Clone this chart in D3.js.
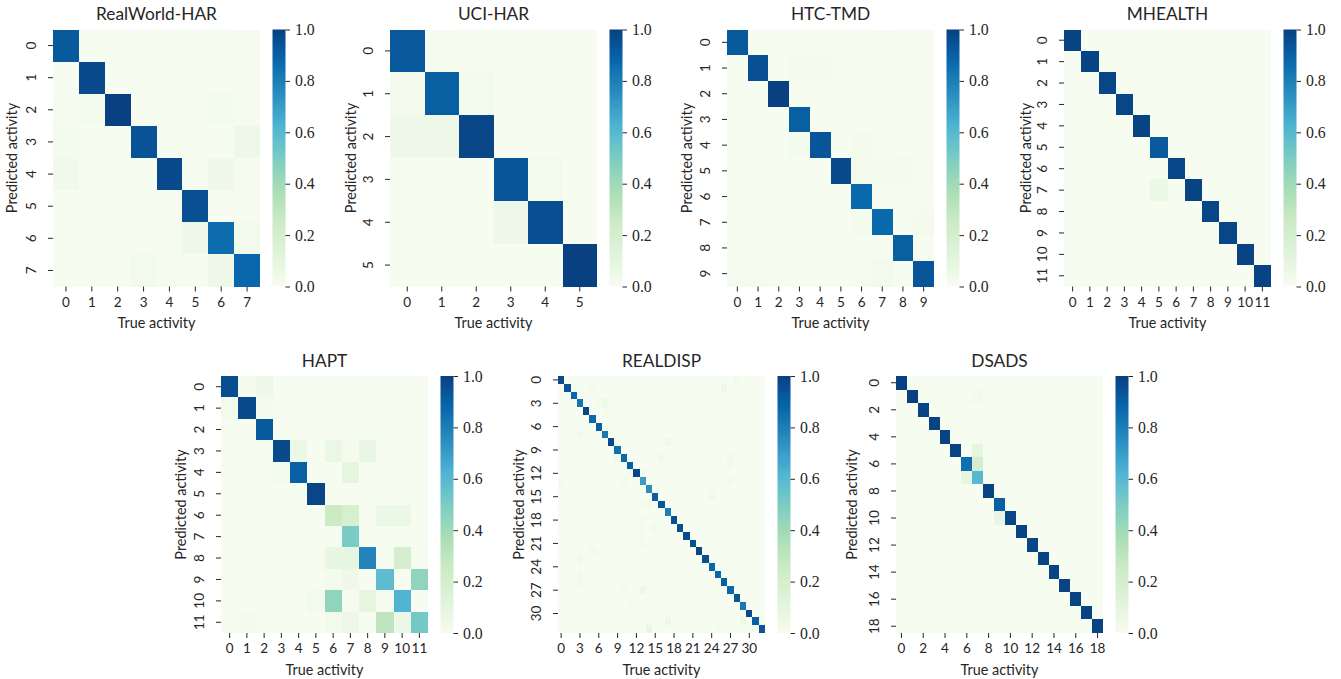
<!DOCTYPE html>
<html><head><meta charset="utf-8">
<script src="https://cdn.jsdelivr.net/npm/d3@7/dist/d3.min.js"></script>
<style>
html,body{margin:0;padding:0;background:#fff}
svg{display:block}
.lab{font-family:Lato,"Noto Sans",sans-serif;fill:#262626}
.cb{font-family:"Liberation Serif",serif;fill:#262626}
</style></head><body>
<svg id="c" width="1341" height="679"></svg>
<script>
// GnBu control colours
const gnbu = ["#f7fcf0","#e0f3db","#ccebc5","#a8ddb5","#7bccc4","#4eb3d3","#2b8cbe","#0868ac","#084081"];
const background = 0.004;

// Diagonal values and off-diagonal [row, col, value]
const rwDiag = [.92,.97,1,.94,.97,.95,.86,.88];
const rwOff = [[0,7,.01],[1,4,.012],[1,5,.008],[1,7,.008],[2,0,.008],[2,1,.02],[2,6,.02],[2,7,.008],
  [3,0,.02],[3,1,.006],[3,4,.006],[3,7,.05],[4,0,.035],[4,5,.005],[4,6,.04],[4,7,.01],[5,6,.005],[5,7,.008],
  [6,4,.01],[6,5,.05],[6,7,.025],[7,0,.005],[7,3,.025],[7,4,.01],[7,5,.005],[7,6,.04]];

const uciDiag = [.92,.9,.98,.93,.96,1];
const uciOff = [[0,1,.01],[1,0,.015],[1,2,.025],[2,0,.05],[2,1,.05],[3,4,.03],[4,3,.05]];

const htcDiag = [.92,.95,1,.9,.93,.97,.87,.87,.9,.93];
const htcOff = [[0,5,.005],[0,6,.006],[0,7,.012],[1,3,.015],[1,4,.015],[1,5,.005],[1,6,.008],[3,1,.006],[3,4,.006],[3,5,.005],
  [4,1,.005],[4,3,.02],[4,6,.015],[4,7,.012],[5,0,.012],[5,4,.006],[5,6,.025],[5,7,.015],[5,8,.015],[5,9,.012],
  [6,7,.012],[6,8,.012],[6,9,.006],[7,0,.012],[7,1,.005],[7,6,.02],[7,9,.015],[8,6,.006],[8,7,.012],[8,9,.006],
  [9,0,.008],[9,1,.008],[9,5,.005],[9,6,.008],[9,7,.025]];

const mhDiag = [.99,.99,.98,.98,.99,.92,.98,.99,.98,.98,.99,.99];
const mhOff = [[7,5,.06]];

const haptDiag = [.96,.97,.92,.97,.9,.98,.25,.5,.78,.58,.62,.52];
const haptOff = [[0,1,.015],[0,2,.05],[1,0,.03],[1,2,.015],[3,4,.06],[3,6,.07],[3,7,.015],[3,8,.08],[4,3,.02],[4,7,.1],
  [6,3,.006],[6,4,.01],[6,7,.18],[6,9,.06],[6,10,.06],[8,5,.012],[8,6,.09],[8,7,.09],[8,9,.01],[8,10,.2],[8,11,.01],
  [9,6,.02],[9,7,.04],[9,8,.005],[9,11,.44],[10,5,.03],[10,6,.44],[10,7,.012],[10,8,.09],[10,9,.01],[10,11,.006],
  [11,0,.008],[11,1,.015],[11,6,.03],[11,7,.05],[11,9,.3],[11,10,.06]];

const rdDiag = [.97,.93,.88,.83,.98,.87,.9,.82,.97,.85,.87,.9,.98,.7,.75,.9,.93,.8,.95,.95,.97,.95,.98,.95,.88,.88,.9,.88,.93,.82,.97,.9,.93];
const rdOff = [[0,28,.03],[1,2,.02],[1,5,.015],[1,26,.04],[3,6,.015],[3,7,.05],[4,7,.015],[6,7,.02],[7,3,.025],[8,9,.015],[8,17,.04],
  [10,9,.03],[10,16,.03],[10,27,.03],[11,10,.02],[11,27,.025],[12,4,.015],[12,11,.03],[12,13,.02],[13,0,.015],[13,10,.03],[13,27,.03],
  [14,24,.02],[15,24,.035],[16,13,.03],[16,14,.025],[18,13,.015],[19,13,.02],[19,15,.03],[20,13,.015],[21,13,.015],[22,5,.03],[22,17,.01],
  [23,3,.04],[24,13,.01],[25,3,.025],[25,26,.015],[26,3,.03],[26,25,.015],[27,10,.02],[27,13,.05],[29,11,.03],
  [31,17,.05],[31,29,.06],[31,32,.02],[32,14,.08],[32,25,.02],[32,31,.015]];

const dsDiag = [1,1,.99,.99,.99,.99,.85,.6,.99,.9,.98,.99,.98,.99,.99,.99,.99,.99,.99];
const dsOff = [[1,7,.03],[4,7,.01],[5,6,.006],[5,7,.1],[6,7,.2],[7,6,.09],[7,8,.006],[10,9,.08]];

const titles = ["RealWorld-HAR","UCI-HAR","HTC-TMD","MHEALTH","HAPT","REALDISP","DSADS"];
const diags = [rwDiag,uciDiag,htcDiag,mhDiag,haptDiag,rdDiag,dsDiag];
const offs = [rwOff,uciOff,htcOff,mhOff,haptOff,rdOff,dsOff];
const tickSteps = [1,1,1,1,1,3,2];
const colorbarTicks = [0,.2,.4,.6,.8,1];
const xAxisLabel = "True activity", yAxisLabel = "Predicted activity";

// Layout: plot left edge, top edge, y-label offset
const lefts = [53,390,727,1064,221,558,896];
const tops = [29.5,29.5,29.5,29.5,376,376,376];
const ylabOff = [36,34,35,33,35,34,39];
const W = 207, H = 257, CBGAP = 12.5, CBW = 13;

const color = d3.scaleLinear().domain(gnbu.map((_,i)=>i/8)).range(gnbu).interpolate(d3.interpolateRgb);
const svg = d3.select("#c");
const defs = svg.append("defs");
const grad = defs.append("linearGradient").attr("id","cbg").attr("x1",0).attr("x2",0).attr("y1",1).attr("y2",0);
d3.range(0,1.0001,1/64).forEach(t=>grad.append("stop").attr("offset",t).attr("stop-color",color(t)));

titles.forEach((title,p)=>{
  const n = diags[p].length, idx = d3.range(n);
  const cells = [];
  idx.forEach(r=>idx.forEach(c=>cells.push({r,c,v:r===c?diags[p][r]:background})));
  offs[p].forEach(([r,c,v])=>{cells[r*n+c].v=v;});
  const g = svg.append("g").attr("transform",`translate(${lefts[p]},${tops[p]})`);
  const x = d3.scaleBand().domain(idx).range([0,W]);
  const y = d3.scaleBand().domain(idx).range([0,H]);
  g.append("g").selectAll("rect").data(cells).join("rect")
    .attr("x",d=>x(d.c)).attr("y",d=>y(d.r))
    .attr("width",x.bandwidth()+.3).attr("height",y.bandwidth()+.3)
    .attr("fill",d=>color(d.v)).attr("shape-rendering","crispEdges");

  const ticks = idx.filter(i=>i%tickSteps[p]===0);
  const ax = g.append("g").attr("transform",`translate(0,${H})`)
    .call(d3.axisBottom(x).tickValues(ticks).tickSize(5).tickPadding(6));
  const ay = g.append("g").call(d3.axisLeft(y).tickValues(ticks).tickSize(5).tickPadding(6));
  [ax,ay].forEach(a=>{
    a.select(".domain").remove();
    a.selectAll("line").attr("stroke","#262626").attr("stroke-width",1);
    a.selectAll("text").attr("class","lab").style("font-size","13.5px");
  });
  ax.selectAll("text").attr("y",9).attr("dy","0.85em");
  ay.selectAll("text").attr("x",0).attr("dy",0)
    .attr("text-anchor","middle").attr("transform","translate(-17,0) rotate(-90)");

  g.append("text").attr("class","lab").attr("x",W/2).attr("y",-9.5)
    .attr("text-anchor","middle").style("font-size","17.3px").text(title);
  g.append("text").attr("class","lab").attr("x",W/2).attr("y",H+41.5)
    .attr("text-anchor","middle").style("font-size","14.4px").text(xAxisLabel);
  g.append("text").attr("class","lab").attr("text-anchor","middle").style("font-size","14.4px")
    .attr("transform",`translate(${-ylabOff[p]},${H/2}) rotate(-90)`).text(yAxisLabel);

  const cb = g.append("g").attr("transform",`translate(${W+CBGAP},0)`);
  cb.append("rect").attr("width",CBW).attr("height",H).attr("fill","url(#cbg)");
  const sc = d3.scaleLinear().domain([0,1]).range([H,0]);
  const ac = cb.append("g").attr("transform",`translate(${CBW},0)`)
    .call(d3.axisRight(sc).tickValues(colorbarTicks).tickSize(4.5).tickPadding(5).tickFormat(d3.format(".1f")));
  ac.select(".domain").remove();
  ac.selectAll("line").attr("stroke","#262626").attr("stroke-width",1);
  ac.selectAll("text").attr("class","cb").style("font-size","15.8px");
});
</script>
</body></html>
